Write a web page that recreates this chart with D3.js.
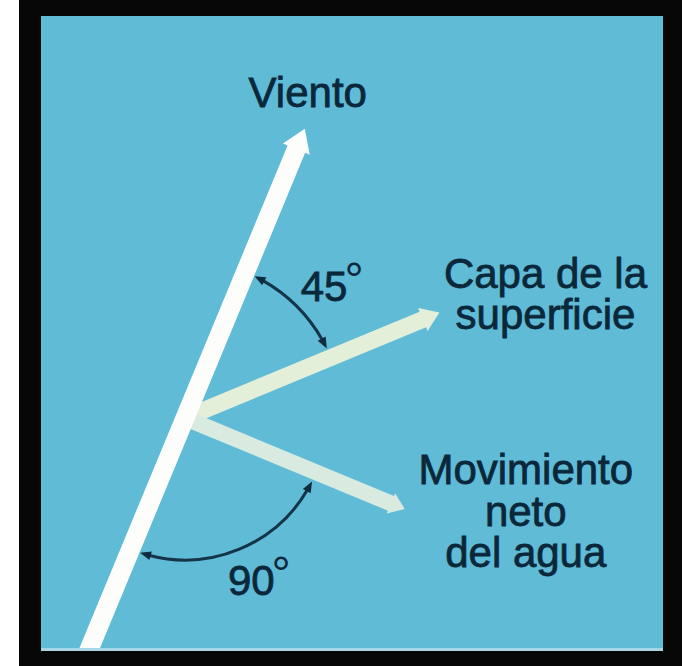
<!DOCTYPE html>
<html>
<head>
<meta charset="utf-8">
<script src="https://cdn.jsdelivr.net/npm/d3@7"></script>
<style>
body { margin: 0; background: #fff; }
text { font-family: "Liberation Sans", Arial, sans-serif; }
</style>
</head>
<body>
<div id="chart"></div>
<script>
// vectors: wind, surface layer, net water movement
var vectorNames = ["Viento", "Capa de la superficie", "Movimiento neto del agua"];
var vectorAngles = [67.5, 22.5, -22.5]; // degrees from horizontal
var vectorMagnitudes = [1, 0.88, 0.76]; // relative arrow length
var labelLines = [["Viento"], ["Capa de la", "superficie"], ["Movimiento", "neto", "del agua"]];
// angle markers
var angleValues = [45, 90];
var angleLabels = ["45", "90"];

var width = 682, height = 666;
var O = { x: 185, y: 418 }; // where the wind arrow meets the other two
var ang = d3.scaleLinear().domain([0, 360]).range([0, 2 * Math.PI]);
var mag = d3.scaleLinear().domain([0, 1]).range([0, 313]);
var textColor = "#0b283a";

function pt(deg, r) {
  var a = ang(deg);
  return [O.x + r * Math.cos(a), O.y - r * Math.sin(a)];
}

var svg = d3.select("#chart").append("svg")
    .attr("width", width)
    .attr("height", height);

// frame
svg.append("rect").attr("x", 19).attr("y", 0).attr("width", 663).attr("height", 666).attr("fill", "#060606");
svg.append("rect").attr("x", 41).attr("y", 16).attr("width", 622).attr("height", 635).attr("fill", "#60bbd7");
svg.append("rect").attr("x", 41).attr("y", 648).attr("width", 622).attr("height", 3).attr("fill", "#a6d6e4");

svg.append("defs").append("clipPath").attr("id", "panel")
  .append("rect").attr("x", 41).attr("y", 16).attr("width", 622).attr("height", 632);

function arrowPoints(sx, sy, deg, len, w, hl, hw) {
  var a = ang(deg), ux = Math.cos(a), uy = -Math.sin(a), nx = -uy, ny = ux;
  var bx = sx + ux * (len - hl), by = sy + uy * (len - hl);
  return [
    [sx + nx * w, sy + ny * w],
    [bx + nx * w, by + ny * w],
    [bx + nx * hw, by + ny * hw],
    [sx + ux * len, sy + uy * len],
    [bx - nx * hw, by - ny * hw],
    [bx - nx * w, by - ny * w],
    [sx - nx * w, sy - ny * w]
  ];
}

var arrowStyle = [
  { w: 9.5, hl: 22, hw: 14.5, fill: "#fdfefc", tail: 265 },
  { w: 8.5, hl: 18, hw: 12.5, fill: "#e4efda", tail: 0 },
  { w: 8, hl: 15, hw: 11, fill: "#d9ebe1", tail: 0 }
];

var arrows = vectorNames.map(function(name, i) {
  var s = arrowStyle[i];
  var start = s.tail ? pt(vectorAngles[i] + 180, s.tail) : [O.x, O.y];
  return { name: name, i: i,
    pts: arrowPoints(start[0], start[1], vectorAngles[i], s.tail + mag(vectorMagnitudes[i]), s.w, s.hl, s.hw) };
});

var line = d3.line();
var g = svg.append("g").attr("clip-path", "url(#panel)");
// branch arrows first so the wind arrow sits on top
g.selectAll("path.vec")
  .data([arrows[1], arrows[2], arrows[0]])
  .enter().append("path")
  .attr("class", "vec")
  .attr("d", function(d) { return line(d.pts) + "Z"; })
  .attr("fill", function(d) { return arrowStyle[d.i].fill; });

// vector labels
var labelOffsets = [[3, -22], [106, -25], [121, -25]];
vectorNames.forEach(function(name, i) {
  var tip = pt(vectorAngles[i], mag(vectorMagnitudes[i]));
  var t = svg.append("text")
    .attr("text-anchor", "middle")
    .attr("font-size", 42)
    .attr("fill", textColor)
    .attr("stroke", textColor)
    .attr("stroke-width", 0.8);
  labelLines[i].forEach(function(l, j) {
    t.append("tspan")
      .attr("x", tip[0] + labelOffsets[i][0])
      .attr("y", tip[1] + labelOffsets[i][1] + j * 41.5)
      .text(l);
  });
});

// angle arcs
var arcFrom = [vectorAngles[0], vectorAngles[0] + 180];
var arcSign = [-1, 1];
var arcRadius = [158, 142];
var arcGap = [10, 10];
var headLen = 11, headHalf = 4.5;

angleValues.forEach(function(v, i) {
  var r = arcRadius[i], s = arcSign[i];
  var d0 = ang.invert(arcGap[i] / r);
  var a0 = arcFrom[i] + s * d0;
  var a1 = arcFrom[i] + s * (v - d0);
  var dh = ang.invert((headLen - 2) / r);
  var p = d3.path();
  p.arc(O.x, O.y, r, -ang(a0 + s * dh), -ang(a1 - s * dh), s > 0);
  svg.append("path")
    .attr("d", p.toString())
    .attr("fill", "none")
    .attr("stroke", "#143448")
    .attr("stroke-width", 3);

  // arrowheads at both ends, pointing at the vectors
  [[a0, -s], [a1, s]].forEach(function(e) {
    var tip = pt(e[0], r);
    var base = pt(e[0] - e[1] * ang.invert(headLen / r), r);
    var dx = tip[0] - base[0], dy = tip[1] - base[1], L = Math.sqrt(dx * dx + dy * dy);
    var nx = -dy / L * headHalf, ny = dx / L * headHalf;
    svg.append("path")
      .attr("d", line([tip, [base[0] + nx, base[1] + ny], [base[0] - nx, base[1] - ny]]) + "Z")
      .attr("fill", "#0f2c3f");
  });
});

// angle labels
var labelPolar = [[43.5, 192], [-67.7, 175]];
angleLabels.forEach(function(l, i) {
  var c = pt(labelPolar[i][0], labelPolar[i][1]);
  var t = svg.append("text")
    .attr("x", c[0] - 23.5)
    .attr("y", c[1] + 15)
    .attr("font-size", 42)
    .attr("fill", textColor)
    .attr("stroke", textColor)
    .attr("stroke-width", 0.8);
  t.append("tspan").text(l);
  t.append("tspan")
    .attr("font-size", 48)
    .attr("dx", -3)
    .attr("dy", -5)
    .attr("stroke-width", 0)
    .text("\u00B0");
});
</script>
</body>
</html>
